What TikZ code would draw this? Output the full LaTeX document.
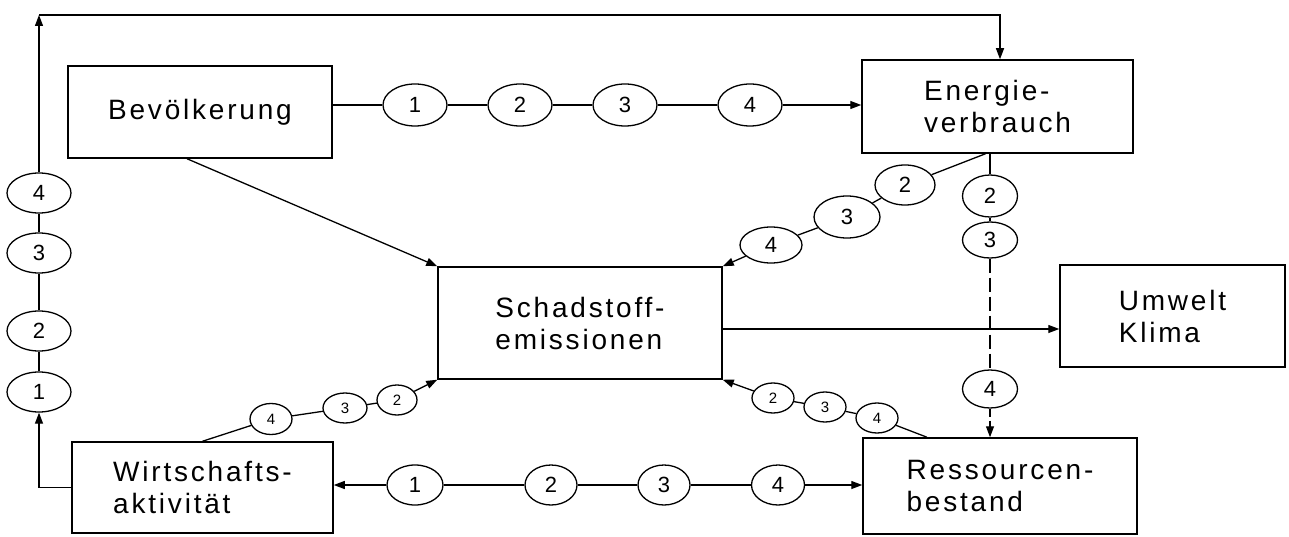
\documentclass[tikz,border=0pt]{standalone}
\usepackage{fontspec}
\setmainfont{Liberation Sans}
\newfontfamily\labfont[LetterSpace=10]{Liberation Sans}
\usetikzlibrary{arrows.meta,shapes.geometric}
\begin{document}
\begin{tikzpicture}[x=1pt,y=-1pt,
  box/.style={draw,line width=1.5pt,inner sep=0pt,align=left,font=\labfont\fontsize{28}{32}\selectfont},
  ov/.style={draw,ellipse,line width=1.3pt,inner sep=0pt,font=\fontsize{22}{22}\selectfont},
  big/.style={ov,minimum width=64pt,minimum height=42pt},
  small/.style={ov,minimum width=42pt,minimum height=31pt,font=\fontsize{15}{15}\selectfont},
  con/.style={line width=1.3pt},
  arr/.style={con,-{Triangle[length=11pt,width=8pt]}}]
\useasboundingbox (0,0) rectangle (1289,537);
% boxes
\node[box,minimum width=264pt,minimum height=92pt] (bev) at (200,112) {Bevölkerung};
\node[box,minimum width=271pt,minimum height=93pt] (ene) at (997.5,106.5) {Energie-\\verbrauch};
\node[box,minimum width=284pt,minimum height=112pt] (schad) at (580,323) {Schadstoff-\\emissionen};
\node[box,minimum width=225pt,minimum height=102pt] (umw) at (1172.5,316) {Umwelt\\Klima};
\node[box,minimum width=261pt,minimum height=91pt] (wirt) at (202.5,487.5) {Wirtschafts-\\aktivität};
\node[box,minimum width=274pt,minimum height=96pt] (res) at (1000,486) {Ressourcen-\\bestand};
% left column
\node[big,minimum height=40pt] (L1) at (39,392) {1};
\node[big,minimum height=40pt] (L2) at (39,331) {2};
\node[big,minimum height=40pt] (L3) at (39,253) {3};
\node[big,minimum height=40pt] (L4) at (39,193) {4};
\coordinate (tl) at (39,15);
\coordinate (tr) at (1000,15);
\draw[arr] (wirt.west) -| (L1.south);
\draw[con] (L1) -- (L2) -- (L3) -- (L4);
\draw[arr] (L4) -- (tl);
\draw[arr] (tl) -- (tr) -- (tr |- ene.north);
% top row
\node[big] (T1) at (415,105) {1};
\node[big] (T2) at (520,105) {2};
\node[big] (T3) at (625,105) {3};
\node[big] (T4) at (750,105) {4};
\draw[con] (bev.east |- T1) -- (T1) -- (T2) -- (T3) -- (T4);
\draw[arr] (T4) -- (T4 -| ene.west);
% Bevoelkerung -> Schadstoff
\draw[arr] ([xshift=-13pt]bev.south) -- (schad.north west);
% Energie -> Schadstoff chain
\node[ov,minimum width=60pt,minimum height=40pt] (EA2) at (905,185) {2};
\node[ov,minimum width=66pt,minimum height=42pt] (EA3) at (847,217) {3};
\node[ov,minimum width=62pt,minimum height=36pt] (EA4) at (771,245) {4};
\draw[con] ([xshift=-12pt]ene.south) -- (EA2) -- (EA3) -- (EA4);
\draw[arr] (EA4) -- (schad.north east);
% Energie -> Ressourcen
\node[ov,minimum width=55pt,minimum height=42pt] (EV2) at (990,196) {2};
\node[ov,minimum width=55pt,minimum height=36pt] (EV3) at (990,240) {3};
\node[ov,minimum width=55pt,minimum height=38pt] (EV4) at (990,389) {4};
\draw[con] ([xshift=-7.5pt]ene.south) -- (EV2) -- (EV3);
\draw[con,dash pattern=on 14pt off 5pt] (EV3) -- (EV4);
\draw[arr,dash pattern=on 8pt off 4pt] (EV4) -- (EV4 |- res.north);
% Schadstoff -> Umwelt
\coordinate (se) at ([yshift=-6pt]schad.east);
\draw[arr] (se) -- (se -| umw.west);
% Wirtschaft -> Schadstoff chain
\node[small] (W4) at (271,419) {4};
\node[small,minimum width=44pt,minimum height=30pt] (W3) at (345,408) {3};
\node[small,minimum width=40pt,minimum height=30pt] (W2) at (397,400) {2};
\draw[con] (wirt.north) -- (W4) -- (W3) -- (W2);
\draw[arr] (W2) -- (schad.south west);
% Ressourcen -> Schadstoff chain
\node[small,minimum height=30pt] (R4) at (877,418) {4};
\node[small,minimum height=30pt] (R3) at (825,407) {3};
\node[small,minimum height=30pt] (R2) at (773,398) {2};
\draw[con] ([xshift=-73pt]res.north) -- (R4) -- (R3) -- (R2);
\draw[arr] (R2) -- (schad.south east);
% bottom row
\node[ov,minimum width=56pt,minimum height=40pt] (B1) at (415,485) {1};
\node[ov,minimum width=52pt,minimum height=40pt] (B2) at (551,485) {2};
\node[ov,minimum width=52pt,minimum height=40pt] (B3) at (664,485) {3};
\node[ov,minimum width=53pt,minimum height=40pt] (B4) at (778,485) {4};
\draw[arr] (B1) -- (B1 -| wirt.east);
\draw[con] (B1) -- (B2) -- (B3) -- (B4);
\draw[arr] (B4) -- (B4 -| res.west);
\end{tikzpicture}
\end{document}
